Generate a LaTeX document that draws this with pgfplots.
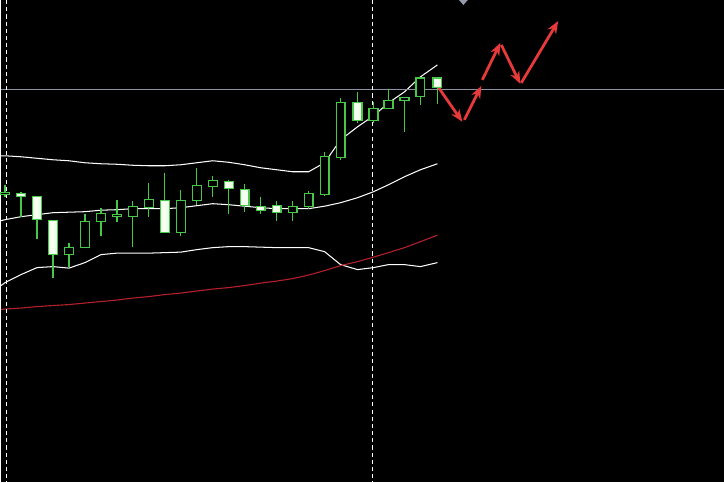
\documentclass[border=0pt]{standalone}
\usepackage{pgfplots}
\usepackage{pgfplotstable}
\pgfplotsset{compat=1.18}
\usetikzlibrary{arrows.meta}

\definecolor{cgreen}{RGB}{72,200,72}
\definecolor{bearfill}{RGB}{245,255,240}
\definecolor{maRed}{RGB}{178,32,42}
\definecolor{arrowRed}{RGB}{232,58,58}
\definecolor{levelGray}{RGB}{140,146,165}
\definecolor{markGray}{RGB}{150,156,170}

% chart is kept in screen units: x and y in pixels, y grows downward
% 1 pixel = 0.01in = 0.7227pt
\pgfplotstableread{
x   hi    lo
4   185   197
20  192   217
36  196   239
52  220   278
68  243   267
84  214   248
100 208   236
116 200   222
132 201.5 247
148 183   217
164 173   233
180 190   236.5
196 168   205.5
212 176   197.5
228 180   214
244 184   212
260 197   214.5
276 201   221
292 201.5 221
308 191.5 209
324 152   196
340 98    160
357 92    123
373 102   123
388 89    109
404 97.5  132
420 78    105
437 78    104
}\wicks

\pgfplotstableread{
x   top   bot
4   192.5 194.5
68  248   255
84  222   248
100 214   222
116 214.5 217
132 207   216.5
148 200   208
180 200.5 232.5
196 186   201
212 181   187
292 206.5 213
308 194   206.5
324 157   195
340 103   158
373 109   121
388 101   109
404 97.5  100.5
420 78    97
}\bull

\pgfplotstableread{
x   top   bot
20  194   197
36  197   220
52  221   255
164 200.5 232.5
228 181.5 189
244 189.5 206
260 207   210.5
276 206   213
357 103   121
437 78    88
}\bear

\pgfplotstableread{
x   up    mid   low   ma
0   156   221   286   310
4   156   220   283   309.5
20  157   217   275   308.5
36  158.5 215   268   307
52  160   213   267   306
68  161   212.5 268.5 305
84  163   212   263   303.5
100 164   210.5 255   302
116 164.5 210   253.5 300.5
132 165.5 209   253.5 298.5
148 166   209   253.5 297
164 166   209   253   295
180 165   208   252.5 293.5
196 163   206   250   291.5
212 161   204   248   289.5
228 162.5 205   247   288
244 165   206.5 247   286
260 168   208   247.5 283.5
276 170   209   248   281.5
292 172   209   248   279
308 172   209   248   275.5
324 163   206.5 252   271
340 140   203   265   266
357 127   198   270   262
373 116   192   268   257.5
388 103   185   265   253
404 92    177   265   248
420 77    170   267   242
437 65    164   263   235.5
}\bands

% wick: from the high (data point) down to the low
\pgfdeclareplotmark{wick}{%
  \pgfsetstrokecolor{cgreen}\pgfsetlinewidth{0.9pt}%
  \pgfpathmoveto{\pgfpoint{0pt}{0pt}}%
  \pgfpathlineto{\pgfpoint{0pt}{-\len pt}}%
  \pgfusepath{stroke}}
% body: from the top of the body (data point) down to its bottom
\pgfdeclareplotmark{bullbody}{%
  \pgfsetstrokecolor{cgreen}\pgfsetfillcolor{black}\pgfsetlinewidth{0.9pt}%
  \pgfpathrectangle{\pgfpoint{-3.2pt}{-\len pt}}{\pgfpoint{6.4pt}{\len pt}}%
  \pgfusepath{fill,stroke}}
\pgfdeclareplotmark{bearbody}{%
  \pgfsetstrokecolor{cgreen}\pgfsetfillcolor{bearfill}\pgfsetlinewidth{0.9pt}%
  \pgfpathrectangle{\pgfpoint{-3.2pt}{-\len pt}}{\pgfpoint{6.4pt}{\len pt}}%
  \pgfusepath{fill,stroke}}

\begin{document}
\begin{tikzpicture}
\fill[black] (0,0) rectangle (7.24in,4.83in);
\begin{axis}[
    width=7.24in, height=4.83in,
    scale only axis,
    xmin=0, xmax=724, ymin=0, ymax=483,
    y dir=reverse,
    axis lines=none,
    ticks=none,
]
% wicks
\addplot[scatter, only marks, mark=wick,
    visualization depends on={0.7227*(\thisrow{lo}-\thisrow{hi}) \as \len}]
  table[x=x, y=hi] {\wicks};
% bodies
\addplot[scatter, only marks, mark=bullbody,
    visualization depends on={0.7227*(\thisrow{bot}-\thisrow{top}) \as \len}]
  table[x=x, y=top] {\bull};
\addplot[scatter, only marks, mark=bearbody,
    visualization depends on={0.7227*(\thisrow{bot}-\thisrow{top}) \as \len}]
  table[x=x, y=top] {\bear};

% bollinger bands and moving average
\addplot[white, line width=0.75pt] table[x=x, y=up] {\bands};
\addplot[white, line width=0.75pt] table[x=x, y=mid] {\bands};
\addplot[white, line width=0.75pt] table[x=x, y=low] {\bands};
\addplot[maRed, line width=0.8pt] table[x=x, y=ma] {\bands};

% level line and period separators
\addplot[levelGray, line width=0.75pt] coordinates {(0,90) (724,90)};
\addplot[white, line width=0.75pt, dash pattern=on 3pt off 2.2pt] coordinates {(5,0) (5,483)};
\addplot[white, line width=0.75pt, dash pattern=on 3pt off 2.2pt] coordinates {(372,0) (372,483)};

% forecast arrows
\addplot[arrowRed, line width=2pt, -{Stealth[length=9pt,width=7pt]}] coordinates {(437,86) (462,122)};
\addplot[arrowRed, line width=2pt, -{Stealth[length=9pt,width=7pt]}] coordinates {(464,120) (481,86)};
\addplot[arrowRed, line width=2pt, -{Stealth[length=9pt,width=7pt]}] coordinates {(482,80) (500,43)};
\addplot[arrowRed, line width=2pt, -{Stealth[length=9pt,width=7pt]}] coordinates {(501,45) (520,84)};
\addplot[arrowRed, line width=2pt, -{Stealth[length=9pt,width=7pt]}] coordinates {(521,83) (558,21)};

% marker at the top edge
\addplot[fill=markGray, draw=none] coordinates {(456,-3) (470,-3) (463,5)} -- cycle;
\end{axis}
\end{tikzpicture}
\end{document}
